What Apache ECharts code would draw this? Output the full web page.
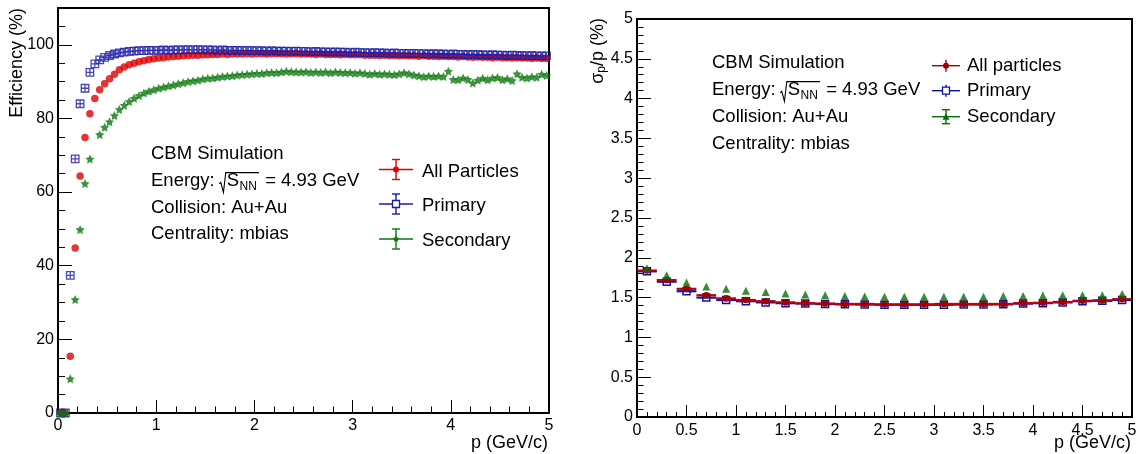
<!DOCTYPE html>
<html><head><meta charset="utf-8">
<script src="https://cdn.jsdelivr.net/npm/echarts@6/dist/echarts.min.js"></script>
<style>html,body{margin:0;padding:0;background:#fff}#c{width:1136px;height:454px}</style>
</head><body><div id="c"></div>
<script>
// ---------------- data ----------------
const pLeft = [0.025,0.075,0.125,0.175,0.225,0.275,0.325,0.375,0.425,0.475,0.525,0.575,0.625,0.675,0.725,0.775,0.825,0.875,0.925,0.975,
1.025,1.075,1.125,1.175,1.225,1.275,1.325,1.375,1.425,1.475,1.525,1.575,1.625,1.675,1.725,1.775,1.825,1.875,1.925,1.975,
2.025,2.075,2.125,2.175,2.225,2.275,2.325,2.375,2.425,2.475,2.525,2.575,2.625,2.675,2.725,2.775,2.825,2.875,2.925,2.975,
3.025,3.075,3.125,3.175,3.225,3.275,3.325,3.375,3.425,3.475,3.525,3.575,3.625,3.675,3.725,3.775,3.825,3.875,3.925,3.975,
4.025,4.075,4.125,4.175,4.225,4.275,4.325,4.375,4.425,4.475,4.525,4.575,4.625,4.675,4.725,4.775,4.825,4.875,4.925,4.975];
const effAll = [0,0,15.4,44.8,64.4,74.8,81.3,85.4,87.8,89.4,90.8,92.0,93.2,94.0,94.6,95.0,95.4,95.7,96.0,96.2,
96.4,96.5,96.7,96.8,96.9,97.0,97.1,97.2,97.2,97.3,97.3,97.4,97.4,97.5,97.4,97.5,97.5,97.5,97.6,97.5,
97.6,97.6,97.5,97.6,97.6,97.6,97.5,97.6,97.6,97.5,97.5,97.5,97.4,97.5,97.4,97.4,97.4,97.3,97.4,97.3,
97.3,97.3,97.2,97.2,97.2,97.1,97.2,97.1,97.1,97.0,97.1,97.0,97.0,96.9,97.0,96.9,96.9,96.8,96.9,96.8,
96.8,96.7,96.8,96.7,96.6,96.7,96.6,96.6,96.5,96.6,96.5,96.5,96.4,96.5,96.4,96.4,96.3,96.4,96.3,96.3];
const effPrimary = [0,0,37.4,69.0,84.0,88.2,92.5,94.8,95.9,96.6,97.1,97.5,97.8,98.0,98.2,98.3,98.4,98.4,98.5,98.5,
98.5,98.6,98.5,98.6,98.6,98.6,98.7,98.6,98.7,98.6,98.6,98.6,98.5,98.6,98.5,98.5,98.5,98.4,98.5,98.4,
98.4,98.4,98.3,98.4,98.3,98.3,98.3,98.2,98.3,98.2,98.2,98.1,98.2,98.1,98.1,98.0,98.1,98.0,98.0,97.9,
98.0,97.9,97.9,97.8,97.9,97.8,97.8,97.7,97.8,97.7,97.7,97.6,97.7,97.6,97.6,97.5,97.6,97.5,97.5,97.4,
97.5,97.4,97.4,97.3,97.4,97.3,97.3,97.2,97.3,97.2,97.2,97.1,97.2,97.1,97.1,97.0,97.1,97.0,97.0,97.0];
const effSecondary = [0,0,9.3,30.8,49.8,62.3,69.0,null,75.6,77.6,79.1,80.8,82.4,83.6,84.6,85.5,86.2,86.9,87.4,87.8,
88.2,88.5,88.8,89.1,89.4,89.7,90.0,90.2,90.4,90.7,90.9,91.0,91.2,91.4,91.5,91.6,91.8,91.9,92.0,92.1,
92.2,92.2,92.4,92.5,92.4,92.6,92.8,92.7,92.6,92.6,92.7,92.5,92.6,92.5,92.6,92.4,92.6,92.5,92.4,92.5,
92.3,92.4,92.2,92.0,92.2,92.0,92.1,92.0,91.9,92.1,92.4,92.1,91.8,91.6,91.3,91.5,91.4,91.5,91.4,92.8,
90.6,90.5,91.0,90.6,89.6,90.4,90.9,90.5,91.0,91.1,90.5,90.8,90.3,92.1,91.2,91.0,91.3,91.2,92.0,91.7];

const pRight = [0.1,0.3,0.5,0.7,0.9,1.1,1.3,1.5,1.7,1.9,2.1,2.3,2.5,2.7,2.9,3.1,3.3,3.5,3.7,3.9,4.1,4.3,4.5,4.7,4.9];
const resAll = [1.84,1.72,1.61,1.53,1.49,1.47,1.455,1.44,1.43,1.425,1.42,1.42,1.415,1.415,1.415,1.42,1.42,1.42,1.42,1.43,1.435,1.445,1.46,1.465,1.48];
const resPrimary = [1.83,1.70,1.58,1.50,1.47,1.455,1.44,1.43,1.425,1.42,1.415,1.413,1.41,1.41,1.41,1.41,1.413,1.413,1.415,1.425,1.43,1.44,1.455,1.46,1.47];
const resSecondary = [1.87,1.78,1.69,1.64,1.61,1.585,1.57,1.55,1.54,1.53,1.52,1.515,1.51,1.51,1.51,1.51,1.51,1.51,1.52,1.52,1.525,1.53,1.53,1.53,1.545];

const infoLines = ['CBM Simulation', 'ENERGY', 'Collision: Au+Au', 'Centrality: mbias'];
const legendLeft = ['All Particles', 'Primary', 'Secondary'];
const legendRight = ['All particles', 'Primary', 'Secondary'];

// ---------------- style ----------------
const FONT = '"Liberation Sans", Arial, Helvetica, sans-serif';
const FS = 18.5;
const RED = '#e00000', BLUE = '#1a1aa4', GREEN = '#0a780a';
const RED2 = '#c00000', RED2M = '#a00000', BLUE2 = '#1010a8', GREEN2 = '#086e08';
const STAR = 'path://M50,0 L64.7,29.8 L97.6,34.5 L73.8,57.7 L79.4,90.5 L50,75 L20.6,90.5 L26.2,57.7 L2.4,34.5 L35.3,29.8 Z';
const BOXX = 'path://M0,0 L10,0 L10,10 L0,10 Z M5,0 L5,10 M0,5 L10,5';

const ctx = document.createElement('canvas').getContext('2d');
function tw(s, size) { ctx.font = size + 'px ' + FONT; return ctx.measureText(s).width; }
function T(x, y, s, size, opt) {
  return Object.assign({type: 'text', x: x, y: y, silent: true, z: 100,
    style: {text: s, fontSize: size, fontFamily: FONT, fill: '#000', align: 'left', verticalAlign: 'middle',
            textAlign: 'left', textVerticalAlign: 'middle'}}, opt || {});
}
function energy(x0, y, fs) {
  const out = [];
  out.push(T(x0, y, 'Energy:', fs));
  const sub = 12;
  const wS = tw('S', fs);
  const rx = x0 + tw('Energy:', fs) + 4.5;
  const top = y - fs * 0.45, bot = y + fs * 0.62;
  const sx = rx + 7.5;
  const tail = x0 + 108;
  out.push({type: 'polyline', silent: true, z: 100, shape: {points: [[rx, y + 3], [rx + 1.5, y + 1.5], [rx + 4.2, bot], [rx + 6.5, top], [tail, top]]},
            style: {stroke: '#000', lineWidth: 1.1, fill: null}});
  out.push(T(sx, y, 'S', fs));
  out.push(T(sx + wS + 0.5, y + fs * 0.33, 'NN', sub));
  out.push(T(tail + 1, y, ' = 4.93 GeV', fs));
  return out;
}
function infoBlock(x0, ys, fs) {
  let out = [];
  infoLines.forEach((s, i) => {
    if (s === 'ENERGY') out = out.concat(energy(x0, ys[i], fs));
    else out.push(T(x0, ys[i], s, fs));
  });
  return out;
}
function starPts(cx, cy, r) {
  const pts = [];
  for (let i = 0; i < 10; i++) {
    const a = -Math.PI / 2 + i * Math.PI / 5;
    const rr = i % 2 ? r * 0.5 : r;
    pts.push([cx + rr * Math.cos(a), cy + rr * Math.sin(a)]);
  }
  return pts;
}
function L(x1, y1, x2, y2, c, w) {
  return {type: 'line', silent: true, z: 100, shape: {x1: x1, y1: y1, x2: x2, y2: y2}, style: {stroke: c, lineWidth: w || 1.3}};
}
function legendEntry(xa, xb, yc, c, marker, half, caps) {
  const xm = (xa + xb) / 2;
  const out = [L(xa, yc, xb, yc, c, 1.4), L(xm, yc - half, xm, yc + half, c, 1.4)];
  if (caps) { out.push(L(xm - 4, yc - half, xm + 4, yc - half, c, 1.4)); out.push(L(xm - 4, yc + half, xm + 4, yc + half, c, 1.4)); }
  if (marker === 'circle') out.push({type: 'circle', silent: true, z: 101, shape: {cx: xm, cy: yc, r: 3}, style: {fill: c}});
  if (marker === 'square') out.push({type: 'rect', silent: true, z: 101, shape: {x: xm - 3.5, y: yc - 3.5, width: 7, height: 7}, style: {fill: '#fff', stroke: c, lineWidth: 1.3}});
  if (marker === 'star') out.push({type: 'polygon', silent: true, z: 101, shape: {points: starPts(xm, yc, 3.5)}, style: {fill: c}});
  if (marker === 'tri') out.push({type: 'polygon', silent: true, z: 101, shape: {points: [[xm, yc - 3.5], [xm + 3.5, yc + 3], [xm - 3.5, yc + 3]]}, style: {fill: c}});
  return out;
}

let graphics = [];
graphics = graphics.concat(infoBlock(151, [154.2, 180.9, 207.5, 234.2], FS));
graphics = graphics.concat(infoBlock(712, [63.2, 89.9, 116.9, 144.2], FS));
const lm = ['circle', 'square', 'star'], lc = [RED, BLUE, GREEN], ly = [169.5, 204, 239], lty = [171.5, 205.5, 240.5];
legendLeft.forEach((s, i) => {
  graphics = graphics.concat(legendEntry(379, 413, ly[i], lc[i], lm[i], 10, true));
  graphics.push(T(422, lty[i], s, FS));
});
const rm = ['circle', 'square', 'tri'], rc = [RED2M, BLUE2, GREEN2], ry = [65.7, 90.7, 116.7], rty = [66, 91, 116.5];
legendRight.forEach((s, i) => {
  graphics = graphics.concat(legendEntry(932, 960, ry[i], rc[i], rm[i], i === 2 ? 7 : 6, i === 2));
  graphics.push(T(967, rty[i], s, FS));
});
function RT(x, y, s, rot) {
  return {type: 'text', x: x, y: y, rotation: rot || 0, silent: true, z: 100,
    style: {text: s, fontSize: 18, fontFamily: FONT, fill: '#000', align: 'right', verticalAlign: 'middle', textAlign: 'right', textVerticalAlign: 'middle'}};
}
// axis titles
graphics.push(RT(17, 8, 'Efficiency (%)', Math.PI / 2));
graphics.push(RT(548, 443, 'p (GeV/c)'));
graphics.push(RT(1131, 443, 'p (GeV/c)'));
graphics.push({type: 'text', x: 598, y: 18, rotation: Math.PI / 2, silent: true, z: 100,
  style: {text: 'σ{s|p}/p (%)', fontSize: 18, fontFamily: FONT, fill: '#000', align: 'right', verticalAlign: 'middle', textAlign: 'right', textVerticalAlign: 'middle',
          rich: {s: {fontSize: 12, fontFamily: FONT, fill: '#000', padding: [8, 0, 0, 0]}}}});

// ---------------- chart ----------------
const zip = (xs, ys) => xs.map((x, i) => [x, ys[i]]).filter(d => d[1] !== null);
const halfBin = (pRight[1] - pRight[0]) / 2;
function binRender(lineColor, markColor, marker) {
  return function (params, api) {
    const x = api.value(0), y = api.value(1);
    const a = api.coord([x - halfBin, y]), b = api.coord([x + halfBin, y]), c = api.coord([x, y]);
    const kids = [{type: 'line', shape: {x1: a[0], y1: a[1], x2: b[0], y2: b[1]}, style: {stroke: lineColor, lineWidth: 2.2}}];
    if (marker === 'circle') kids.push({type: 'circle', shape: {cx: c[0], cy: c[1], r: 3.3}, style: {fill: markColor}});
    else kids.push({type: 'rect', shape: {x: c[0] - 3.5, y: c[1] - 3.5, width: 7, height: 7}, style: {fill: 'rgba(255,255,255,0)', stroke: markColor, lineWidth: 1.5}});
    return {type: 'group', children: kids};
  };
}
const axisCommon = {
  type: 'value',
  axisLine: {show: true, onZero: false, lineStyle: {color: '#000', width: 2}},
  splitLine: {show: false},
  minorSplitLine: {show: false},
  axisLabel: {color: '#000', fontSize: 16, fontFamily: FONT}
};
function ax(o) { return Object.assign({}, JSON.parse(JSON.stringify(axisCommon)), o); }

const option = {
  animation: false,
  backgroundColor: '#fff',
  grid: [
    {left: 58, top: 8, width: 491, height: 405, show: true, borderColor: '#000', borderWidth: 2, backgroundColor: 'rgba(0,0,0,0)', outerBoundsMode: 'none', containLabel: false},
    {left: 637, top: 19, width: 495, height: 398, show: true, borderColor: '#000', borderWidth: 2, backgroundColor: 'rgba(0,0,0,0)', outerBoundsMode: 'none', containLabel: false}
  ],
  xAxis: [
    ax({gridIndex: 0, min: 0, max: 5, interval: 1,
        axisTick: {inside: true, length: 13, lineStyle: {color: '#000', width: 1}},
        minorTick: {show: true, splitNumber: 5, length: 6.5, lineStyle: {color: '#000', width: 1}},
        axisLabel: {color: '#000', fontSize: 16, fontFamily: FONT, margin: 5}}),
    ax({gridIndex: 1, min: 0, max: 5, interval: 0.5,
        axisTick: {inside: true, length: 12, lineStyle: {color: '#000', width: 1}},
        minorTick: {show: true, splitNumber: 5, length: 5, lineStyle: {color: '#000', width: 1}},
        axisLabel: {color: '#000', fontSize: 16, fontFamily: FONT, margin: 6}})
  ],
  yAxis: [
    ax({gridIndex: 0, position: 'left', min: 0, max: 110, interval: 20,
        axisTick: {inside: true, length: 14, lineStyle: {color: '#000', width: 1}},
        axisLabel: {color: '#000', fontSize: 16, fontFamily: FONT, margin: 4, showMaxLabel: false, formatter: v => (v > 100 ? '' : String(v))}}),
    ax({gridIndex: 0, position: 'left', min: 0, max: 110, interval: 5,
        axisLine: {show: false},
        axisTick: {inside: true, length: 7, lineStyle: {color: '#000', width: 1}},
        axisLabel: {show: false}}),
    ax({gridIndex: 1, position: 'left', min: 0, max: 5, interval: 0.5,
        axisTick: {inside: true, length: 14, lineStyle: {color: '#000', width: 1}},
        minorTick: {show: true, splitNumber: 5, length: 6.5, lineStyle: {color: '#000', width: 1}},
        axisLabel: {color: '#000', fontSize: 16, fontFamily: FONT, margin: 4}})
  ],
  series: [
    {type: 'scatter', xAxisIndex: 0, yAxisIndex: 0, data: zip(pLeft, effAll), symbol: 'circle', symbolSize: 7.5,
     itemStyle: {color: RED}, silent: true, z: 2},
    {type: 'scatter', xAxisIndex: 0, yAxisIndex: 0, data: zip(pLeft, effPrimary), symbol: BOXX, symbolSize: 7.5,
     itemStyle: {color: 'rgba(0,0,0,0)', borderColor: BLUE, borderWidth: 1.3}, silent: true, z: 3},
    {type: 'scatter', xAxisIndex: 0, yAxisIndex: 0, data: zip(pLeft, effSecondary), symbol: STAR, symbolSize: 9,
     itemStyle: {color: GREEN}, silent: true, z: 4},
    {type: 'custom', xAxisIndex: 1, yAxisIndex: 2, data: zip(pRight, resPrimary), renderItem: binRender(BLUE2, BLUE2, 'square'),
     encode: {x: 0, y: 1}, silent: true, z: 2},
    {type: 'custom', xAxisIndex: 1, yAxisIndex: 2, data: zip(pRight, resAll), renderItem: binRender(RED2, RED2M, 'circle'),
     encode: {x: 0, y: 1}, silent: true, z: 3},
    {type: 'scatter', xAxisIndex: 1, yAxisIndex: 2, data: zip(pRight, resSecondary), symbol: 'triangle', symbolSize: 8,
     itemStyle: {color: GREEN2}, silent: true, z: 4}
  ],
  graphic: graphics
};
const chart = echarts.init(document.getElementById('c'), null, {renderer: 'canvas'});
chart.setOption(option);
</script>
</body></html>
